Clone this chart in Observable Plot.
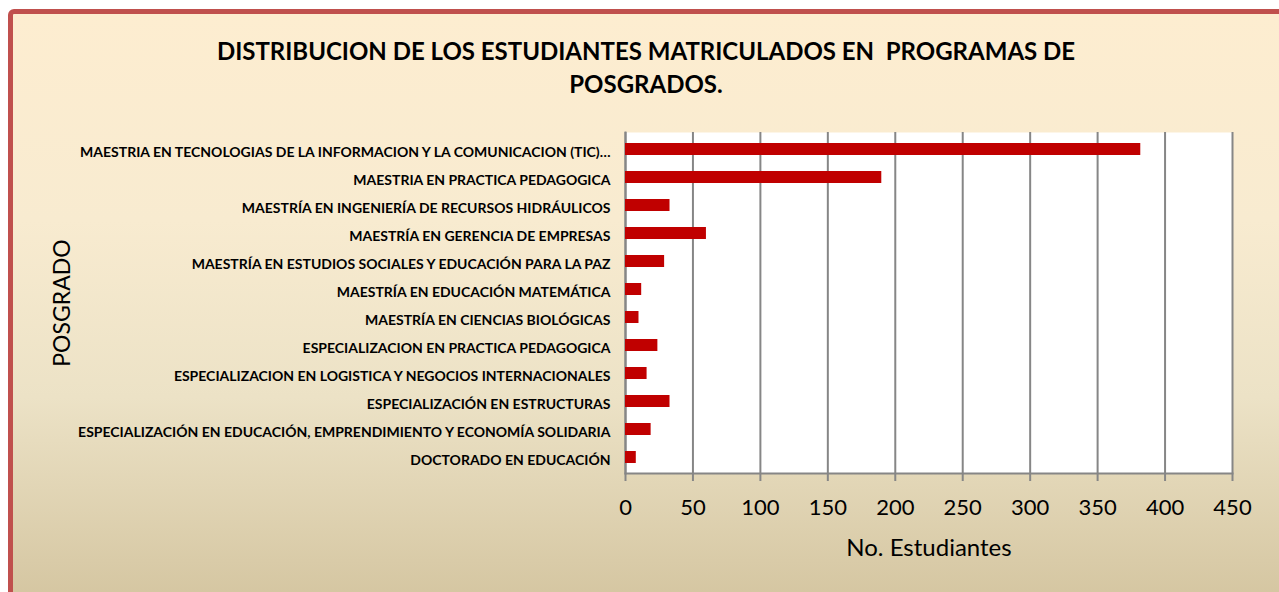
<!DOCTYPE html>
<html>
<head>
<meta charset="utf-8">
<script src="https://cdn.jsdelivr.net/npm/d3@7"></script>
<script src="https://cdn.jsdelivr.net/npm/@observablehq/plot@0.6"></script>
<style>
  html, body { margin: 0; padding: 0; width: 1279px; height: 592px; overflow: hidden; background: #ffffff; }
  #frame {
    position: absolute; left: 8px; top: 9px; width: 1280px; height: 600px;
    border: 5px solid #C0504D; border-radius: 6px; box-sizing: border-box;
    background: linear-gradient(to bottom, #FDEDD0 0%, #F8EBD0 35%, #ECE2C6 65%, #D4C5A0 100%);
  }
  #title {
    position: absolute; left: 0; top: 34px; width: 1292px; text-align: center;
    font-family: Lato, "Open Sans", sans-serif; font-weight: bold; font-size: 24px; line-height: 33px; color: #000;
  }
  #chart { position: absolute; left: 0; top: 0; }
  #chart svg { background: transparent !important; }
</style>
</head>
<body>
<div id="frame"></div>
<div id="title">DISTRIBUCION DE LOS ESTUDIANTES MATRICULADOS EN&nbsp; PROGRAMAS DE<br>POSGRADOS.</div>
<div id="chart"></div>
<script>
const programas = [
  "MAESTRIA EN TECNOLOGIAS DE LA INFORMACION Y LA COMUNICACION (TIC)…",
  "MAESTRIA EN PRACTICA PEDAGOGICA",
  "MAESTRÍA EN INGENIERÍA DE RECURSOS HIDRÁULICOS",
  "MAESTRÍA EN GERENCIA DE EMPRESAS",
  "MAESTRÍA EN ESTUDIOS SOCIALES Y EDUCACIÓN PARA LA PAZ",
  "MAESTRÍA EN EDUCACIÓN MATEMÁTICA",
  "MAESTRÍA EN CIENCIAS BIOLÓGICAS",
  "ESPECIALIZACION EN PRACTICA PEDAGOGICA",
  "ESPECIALIZACION EN LOGISTICA Y NEGOCIOS INTERNACIONALES",
  "ESPECIALIZACIÓN EN ESTRUCTURAS",
  "ESPECIALIZACIÓN EN EDUCACIÓN, EMPRENDIMIENTO Y ECONOMÍA SOLIDARIA",
  "DOCTORADO EN EDUCACIÓN"
];
const estudiantes = [382, 190, 33, 60, 29, 12, 10, 24, 16, 33, 19, 8];
const xTicks = [0, 50, 100, 150, 200, 250, 300, 350, 400, 450];

const data = programas.map((p, i) => ({programa: p, valor: estudiantes[i]}));

const chart = Plot.plot({
  width: 1279,
  height: 592,
  marginLeft: 625,
  marginRight: 47,
  marginTop: 132,
  marginBottom: 119,
  style: {background: "transparent", fontFamily: "Lato, 'Open Sans', sans-serif", color: "#000"},
  x: {domain: [0, 450]},
  y: {domain: programas, paddingInner: 0.58, paddingOuter: 0.27},
  marks: [
    Plot.frame({fill: "white", stroke: null}),
    Plot.ruleX(xTicks, {stroke: "#868686", strokeWidth: 2}),
    Plot.frame({anchor: "bottom", stroke: "#868686", strokeWidth: 2}),
    Plot.frame({anchor: "left", stroke: "#868686", strokeWidth: 2}),
    Plot.barX(data, {x: "valor", y: "programa", fill: "#C00000"}),
    Plot.axisX({ticks: xTicks, tickSize: 8, stroke: "#868686", strokeWidth: 2, tickPadding: 18,
      fontSize: 22, fill: "#000", label: null}),
    Plot.text(["No. Estudiantes"], {frameAnchor: "bottom", dy: 82, fontSize: 24, fill: "#000"}),
    Plot.axisY({tickSize: 0, tickPadding: 15, dy: 3, fontSize: 14, fontWeight: "bold", fill: "#000", label: null}),
    Plot.text(["POSGRADO"], {frameAnchor: "left", textAnchor: "middle", dx: -563, rotate: -90, fontSize: 23, fill: "#000"})
  ]
});
document.getElementById("chart").appendChild(chart);
</script>
</body>
</html>
